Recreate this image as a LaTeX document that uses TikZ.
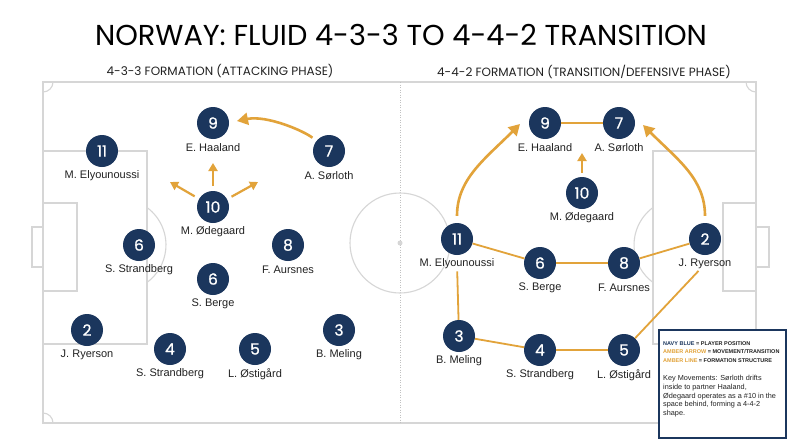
\documentclass[tikz,border=0pt]{standalone}
\usepackage{fontspec}
\setmainfont{Liberation Sans}
\newfontfamily\titlefont{Poppins}
\newfontfamily\numfont[FakeBold=0.8]{Poppins}
\usetikzlibrary{arrows.meta}
\definecolor{navy}{HTML}{1B365D}
\definecolor{amber}{HTML}{E2A33A}
\definecolor{pitchgrey}{HTML}{D6D6D6}
\definecolor{ink}{HTML}{222222}
\newcommand\pl[5]{%
  \node[pc] (#1) at (#2,#3) {#4};
  \node[pn] (#1l) at (#2,#3+25) {#5};}
\begin{document}
\begin{tikzpicture}[x=1pt,y=-1pt,
  pitchline/.style={draw=pitchgrey, line width=1.1pt},
  pc/.style={circle, fill=navy, minimum size=32pt, inner sep=0pt, text=white,
    font=\numfont\fontsize{15.5}{15.5}\selectfont},
  pn/.style={inner sep=1pt, text=ink, font=\fontsize{11}{13}\selectfont},
  arr/.style={draw=amber, line width=2.6pt, -{Triangle[length=11pt,width=12pt]}},
  sarr/.style={draw=amber, line width=2.2pt, -{Triangle[length=8pt,width=9pt]}},
  sline/.style={draw=amber, line width=1.8pt},
  head/.style={text=ink, font=\titlefont\fontsize{12}{14}\selectfont}
]
\useasboundingbox (0,0) rectangle (800,447);
\fill[white] (0,0) rectangle (800,447);

% title
\node[text=black, font=\titlefont\fontsize{28.8}{32}\selectfont] (title) at (401,35) {NORWAY: FLUID 4-3-3 TO 4-4-2 TRANSITION};
\node[head] (subL) at (220,71.5) {4-3-3 FORMATION (ATTACKING PHASE)};
\node[head] (subR) at (584,71.5) {4-4-2 FORMATION (TRANSITION/DEFENSIVE PHASE)};

% pitch
\draw[pitchline] (43,82) rectangle (756,423);
\draw[draw=pitchgrey!90!black, line width=1pt, dash pattern=on 1pt off 1.5pt] (400,82) -- (400,423);
\draw[pitchline] (400,243) circle[radius=50pt];
\fill[pitchgrey] (400,243) circle[radius=2.5pt];
% left end
\draw[pitchline] (43,151) rectangle (147,344);
\draw[pitchline] (43,203) rectangle (77,291);
\draw[pitchline] (43,227) -- (32,227) -- (32,267) -- (43,267);
\draw[pitchline] (147,207.5) arc[start angle=53.7, end angle=-53.7, radius=46.5pt];
% right end
\draw[pitchline] (756,151) rectangle (653,344);
\draw[pitchline] (756,203) rectangle (723,291);
\draw[pitchline] (756,227) -- (769,227) -- (769,267) -- (756,267);
\draw[pitchline] (653,207.5) arc[start angle=126.3, end angle=233.7, radius=46.5pt];
% corners
\draw[pitchline] (53,82) arc[start angle=0, end angle=-90, radius=10pt];
\draw[pitchline] (43,413) arc[start angle=90, end angle=0, radius=10pt];
\draw[pitchline] (746,82) arc[start angle=180, end angle=270, radius=10pt];
\draw[pitchline] (756,413) arc[start angle=90, end angle=180, radius=10pt];

% left formation 4-3-3
\pl{L9}{213}{123}{9}{E. Haaland}
\pl{L11}{102}{151}{11}{M. Elyounoussi}
\pl{L7}{329}{151}{7}{A. Sørloth}
\pl{L10}{213}{207}{10}{M. Ødegaard}
\pl{L6a}{139}{245}{6}{S. Strandberg}
\pl{L8}{288}{245}{8}{F. Aursnes}
\pl{L6b}{213}{279}{6}{S. Berge}
\pl{L2}{87}{330}{2}{J. Ryerson}
\pl{L4}{170}{349}{4}{S. Strandberg}
\pl{L5}{255}{349}{5}{L. Østigård}
\pl{L3}{339}{330}{3}{B. Meling}

\coordinate (t79) at (237,121);
\coordinate (ta1) at (213,163);
\coordinate (ta2) at (170,182);
\coordinate (ta3) at (258,182);
\draw[arr, shorten <=5pt] (L7) .. controls +(-25,-20) and +(30,-6) .. (t79);
\draw[sarr, shorten <=5pt] (L10) -- (ta1);
\draw[sarr, shorten <=5pt] (L10) -- (ta2);
\draw[sarr, shorten <=5pt] (L10) -- (ta3);

% right formation 4-4-2
\pl{R9}{545}{123}{9}{E. Haaland}
\pl{R7}{619}{123}{7}{A. Sørloth}
\pl{R10}{582}{193}{10}{M. Ødegaard}
\pl{R11}{457}{239}{11}{M. Elyounoussi}
\pl{R6}{540}{263}{6}{S. Berge}
\pl{R8}{624}{263}{8}{F. Aursnes}
\pl{R2}{705}{239}{2}{J. Ryerson}
\pl{R3}{459}{336}{3}{B. Meling}
\pl{R4}{540}{350}{4}{S. Strandberg}
\pl{R5}{624}{350}{5}{L. Østigård}

\draw[sline] (R9) -- (R7);
\draw[sline] (R11) -- (R6);
\draw[sline] (R6) -- (R8);
\draw[sline] (R8) -- (R2);
\draw[sline, shorten <=1pt] (R11l) -- (R3);
\draw[sline] (R3) -- (R4);
\draw[sline] (R4) -- (R5);
\draw[sline, shorten >=1pt] (R5) -- (R2l);

\coordinate (t119) at (520,124);
\coordinate (t27) at (643,125);
\coordinate (ta4) at (582,153);
\draw[arr, shorten <=7pt] (R11) .. controls +(0,-60) and +(-35,35) .. (t119);
\draw[arr, shorten <=7pt] (R2) .. controls +(0,-60) and +(35,35) .. (t27);
\draw[sarr, shorten <=4pt] (R10) -- (ta4);

% legend
\node[draw=navy, line width=1.5pt, fill=white, minimum width=127pt, minimum height=108pt,
  inner sep=0pt, anchor=north west] (leg) at (658,329) {};
\node[anchor=north west, inner sep=0pt, align=left, text=ink,
  font=\bfseries\fontsize{5.5}{8.9}\selectfont] (legkey) at (663,341)
  {{\color{navy}NAVY BLUE} = PLAYER POSITION\\
   {\color{amber}AMBER ARROW} = MOVEMENT/TRANSITION\\
   {\color{amber}AMBER LINE} = FORMATION STRUCTURE};
\node[anchor=north west, inner sep=0pt, align=left, text=ink,
  font=\fontsize{7.3}{8.7}\selectfont] (legtxt) at (663,375.3)
  {Key Movements: Sørloth drifts\\
   inside to partner Haaland,\\
   Ødegaard operates as a \#10 in the\\
   space behind, forming a 4-4-2\\
   shape.};
\end{tikzpicture}
\end{document}
